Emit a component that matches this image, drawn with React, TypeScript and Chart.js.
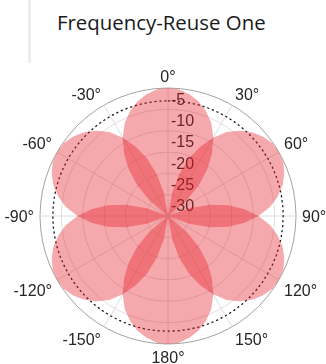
import React, { useEffect, useRef } from 'react';
import { Chart, registerables } from 'chart.js';

Chart.register(...registerables);

// ---- data ----
const chartTitle = 'Frequency-Reuse One';
const angleStep = 5; // degrees between samples
const sampleAngles: number[] = Array.from({ length: 360 / angleStep }, (_, i) => i * angleStep);
// six sector beams, bore-sight directions (deg, clockwise from top)
const beamCenters = [0, 60, 120, 180, 240, 300];
// gain of one beam (dB) at 0,5,10,...,60 deg away from its bore-sight
const petalGain = [0, -0.2, -1.0, -2.2, -3.9, -6.0, -8.8, -12.0, -15.6, -19.8, -24.5, -29.5, -30];
const floorGain = -30;
const cellEdgeGain = -3;
const rTickValues = [-5, -10, -15, -20, -25, -30];
const thetaTickValues = [0, 30, 60, 90, 120, 150, 180, -150, -120, -90, -60, -30];
const rMin = -30;
const rMax = 0;

function beamSeries(center: number): number[] {
  return sampleAngles.map((a) => {
    let d = Math.abs(a - center) % 360;
    if (d > 180) d = 360 - d;
    const idx = Math.round(d / angleStep);
    return idx < petalGain.length ? petalGain[idx] : floorGain;
  });
}

const LABEL_FONT = '16px "Liberation Sans", Arial, sans-serif';
const TEXT_COLOR = '#262626';

const polarTextPlugin = {
  id: 'polarText',
  beforeDatasetsDraw(chart: any) {
    const scale = chart.scales.r;
    const ctx = chart.ctx;
    ctx.save();
    ctx.font = LABEL_FONT;
    ctx.fillStyle = TEXT_COLOR;
    ctx.textAlign = 'left';
    ctx.textBaseline = 'middle';
    rTickValues.forEach((v) => {
      const dist = scale.getDistanceFromCenterForValue(v);
      ctx.fillText(String(v), scale.xCenter + 3, scale.yCenter - dist - 9);
    });
    ctx.restore();
  },
  afterDraw(chart: any) {
    const scale = chart.scales.r;
    const ctx = chart.ctx;
    const R = scale.drawingArea;
    const capH = 11.5;
    ctx.save();
    ctx.font = LABEL_FONT;
    ctx.fillStyle = TEXT_COLOR;
    ctx.textBaseline = 'alphabetic';
    thetaTickValues.forEach((t) => {
      const deg = (t + 360) % 360;
      const idx = deg / angleStep;
      const p = scale.getPointPosition(idx, R + 6);
      ctx.textAlign = deg === 0 || deg === 180 ? 'center' : deg < 180 ? 'left' : 'right';
      let y: number;
      if (deg === 90 || deg === 270) y = p.y + capH / 2;
      else if (deg < 90 || deg > 270) y = p.y;
      else y = p.y + 1 + capH;
      ctx.fillText(t + '\u00B0', p.x, y);
    });
    ctx.restore();
  },
};

export default function App() {
  const canvasRef = useRef<HTMLCanvasElement | null>(null);

  useEffect(() => {
    if (!canvasRef.current) return;
    const petalDatasets = beamCenters.map((c) => ({
      label: 'beam ' + c,
      data: beamSeries(c),
      backgroundColor: 'rgba(232, 30, 40, 0.38)',
      borderWidth: 0,
      borderColor: 'rgba(0,0,0,0)',
      fill: 'start',
      pointRadius: 0,
      pointHoverRadius: 0,
    }));
    const chart = new Chart(canvasRef.current, {
      type: 'radar',
      data: {
        labels: sampleAngles.map((a) => String(a)),
        datasets: [
          ...petalDatasets,
          {
            label: 'cell edge',
            data: sampleAngles.map(() => cellEdgeGain),
            borderColor: '#1a1a1a',
            borderWidth: 1.3,
            borderDash: [2.2, 2.8],
            backgroundColor: 'rgba(0,0,0,0)',
            fill: false,
            pointRadius: 0,
            pointHoverRadius: 0,
          },
        ] as any,
      },
      options: {
        responsive: false,
        animation: false,
        devicePixelRatio: 1,
        layout: { padding: { left: 40, right: 30, top: 88, bottom: 20 } },
        plugins: { legend: { display: false }, tooltip: { enabled: false }, title: { display: false } },
        elements: { line: { tension: 0 } },
        scales: {
          r: {
            min: rMin,
            max: rMax,
            startAngle: 0,
            ticks: { display: false, stepSize: 5 },
            pointLabels: { display: false },
            grid: {
              circular: true,
              color: (ctx: any) => (ctx.tick && ctx.tick.value === rMax ? '#a3a3a3' : '#dedede'),
              lineWidth: 1,
            },
            angleLines: {
              display: true,
              color: '#dedede',
              lineWidth: (ctx: any) => ((ctx.index * angleStep) % 30 === 0 ? 1 : 0),
            },
          },
        },
      } as any,
      plugins: [polarTextPlugin],
    });
    return () => chart.destroy();
  }, []);

  return (
    <div style={{ position: 'absolute', left: 0, top: 0, width: 326, height: 364, background: '#fff' }}>
      <div style={{ position: 'absolute', left: 28, top: 0, width: 3, height: 63, background: '#ededed' }} />
      <div
        style={{
          position: 'absolute',
          left: 57,
          top: 8,
          font: '20.4px "Open Sans", sans-serif',
          lineHeight: '28px',
          color: '#1a1a1a',
          whiteSpace: 'nowrap',
        }}
      >
        {chartTitle}
      </div>
      <canvas
        ref={canvasRef}
        width={326}
        height={364}
        style={{ position: 'absolute', left: 0, top: 0, display: 'block' }}
      />
    </div>
  );
}
